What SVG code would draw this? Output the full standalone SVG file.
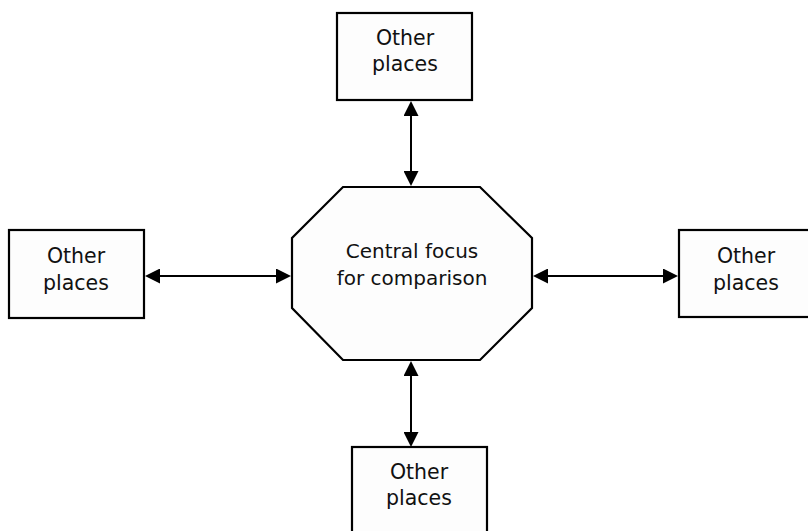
<svg xmlns="http://www.w3.org/2000/svg" width="808" height="531" viewBox="0 0 808 531">
  <style>
    .box { fill: #fdfdfd; stroke: #000; stroke-width: 2.2; }
    .lbl { font-family: "DejaVu Sans", "Liberation Sans", sans-serif; font-size: 20.5px; fill: #111; text-anchor: middle; }
    .clbl { font-family: "DejaVu Sans", "Liberation Sans", sans-serif; font-size: 20px; fill: #111; text-anchor: middle; }
    .conn { stroke: #000; stroke-width: 2; fill: none; marker-start: url(#ah); marker-end: url(#ah); }
  </style>
  <defs>
    <marker id="ah" viewBox="0 0 15 15" refX="13" refY="7.5" markerWidth="15" markerHeight="15" markerUnits="userSpaceOnUse" orient="auto-start-reverse">
      <path d="M0,0 L15,7.5 L0,15 z" fill="#000"/>
    </marker>
  </defs>
  <rect width="808" height="531" fill="#ffffff"/>

  <g id="connectors">
    <line class="conn" x1="411" y1="103" x2="411" y2="184"/>
    <line class="conn" x1="147" y1="276" x2="289" y2="276"/>
    <line class="conn" x1="535" y1="276" x2="676" y2="276"/>
    <line class="conn" x1="411" y1="363" x2="411" y2="445"/>
  </g>

  <g id="center">
    <polygon class="box" points="343,187 480,187 532,238 532,308 480,360 343,360 292,308 292,238"/>
    <text class="clbl" x="412" y="258">Central focus</text>
    <text class="clbl" x="412" y="285">for comparison</text>
  </g>

  <g id="top">
    <rect class="box" x="337" y="13" width="135" height="87"/>
    <text class="lbl" x="405" y="45">Other</text>
    <text class="lbl" x="405" y="71">places</text>
  </g>

  <g id="left">
    <rect class="box" x="9" y="230" width="135" height="88"/>
    <text class="lbl" x="76" y="263">Other</text>
    <text class="lbl" x="76" y="290">places</text>
  </g>

  <g id="right">
    <rect class="box" x="679" y="230" width="140" height="87"/>
    <text class="lbl" x="746" y="263">Other</text>
    <text class="lbl" x="746" y="290">places</text>
  </g>

  <g id="bottom">
    <rect class="box" x="352" y="447" width="135" height="100"/>
    <text class="lbl" x="419" y="479">Other</text>
    <text class="lbl" x="419" y="505">places</text>
  </g>
</svg>
